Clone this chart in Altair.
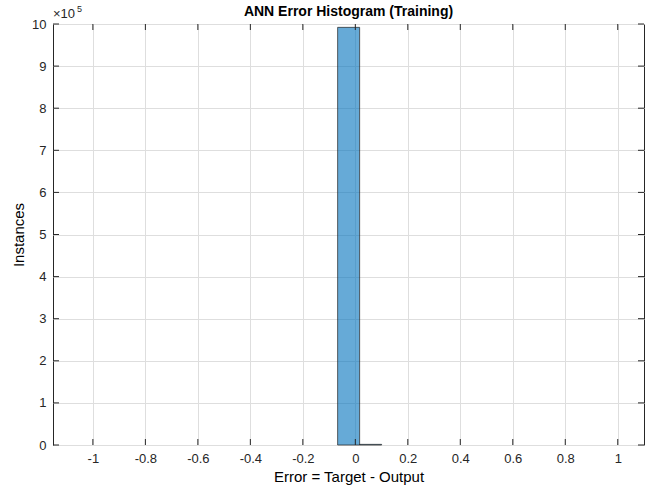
import altair as alt
import pandas as pd

# Histogram bins (error values) and counts
bin_starts = [-0.0674, 0.0164]
bin_ends = [0.0164, 0.1002]
counts = [992000, 1500]

x_ticks = [-1.0, -0.8, -0.6, -0.4, -0.2, 0.0, 0.2, 0.4, 0.6, 0.8, 1.0]
y_ticks = [0, 100000, 200000, 300000, 400000, 500000, 600000, 700000, 800000, 900000, 1000000]

W, H = 591, 421
FONT = "Liberation Sans"
AX = "#262626"

bars_df = pd.DataFrame({"x0": bin_starts, "x1": bin_ends, "n": counts})
xt_df = pd.DataFrame({"x0": x_ticks})
yt_df = pd.DataFrame({"n": y_ticks})

xs = alt.Scale(domain=[-1.152, 1.1], nice=False, zero=False)
ys = alt.Scale(domain=[0, 1000000], nice=False)

x_axis = alt.Axis(values=x_ticks, title="Error = Target - Output",
                  labelExpr="replace(format(datum.value, '.1~f'), '−', '-')",
                  grid=True)
y_axis = alt.Axis(values=y_ticks, title="Instances",
                  labelExpr="format(datum.value / 100000, 'd')",
                  grid=True)

bars = alt.Chart(bars_df).mark_rect(
    color="#0072BD", fillOpacity=0.6, stroke="#262626", strokeWidth=0.8, strokeOpacity=0.9
).encode(
    x=alt.X("x0:Q", scale=xs, axis=x_axis),
    x2="x1:Q",
    y=alt.Y("n:Q", scale=ys, axis=y_axis),
    y2=alt.datum(0),
)

tick_len = 6
xb = alt.Chart(xt_df).mark_rule(color=AX, strokeWidth=1).encode(
    x=alt.X("x0:Q", scale=xs, axis=x_axis), y=alt.value(H), y2=alt.value(H - tick_len))
xtp = alt.Chart(xt_df).mark_rule(color=AX, strokeWidth=1).encode(
    x=alt.X("x0:Q", scale=xs, axis=x_axis), y=alt.value(0), y2=alt.value(tick_len))
yl = alt.Chart(yt_df).mark_rule(color=AX, strokeWidth=1).encode(
    y=alt.Y("n:Q", scale=ys, axis=y_axis), x=alt.value(0), x2=alt.value(tick_len))
yr = alt.Chart(yt_df).mark_rule(color=AX, strokeWidth=1).encode(
    y=alt.Y("n:Q", scale=ys, axis=y_axis), x=alt.value(W), x2=alt.value(W - tick_len))

exp_a = alt.Chart(pd.DataFrame({"t": ["×10"]})).mark_text(
    align="left", baseline="alphabetic", font=FONT, fontSize=13, color=AX
).encode(text="t:N", x=alt.value(0), y=alt.value(-6))
exp_b = alt.Chart(pd.DataFrame({"t": ["5"]})).mark_text(
    align="left", baseline="alphabetic", font=FONT, fontSize=9, color=AX
).encode(text="t:N", x=alt.value(24), y=alt.value(-12))

title = alt.Chart(pd.DataFrame({"t": ["ANN Error Histogram (Training)"]})).mark_text(
    align="center", baseline="middle", font=FONT, fontSize=14, fontWeight="bold", color="#000000"
).encode(text="t:N", x=alt.value(W / 2), y=alt.value(-12))

chart = alt.layer(bars, xb, xtp, yl, yr, exp_a, exp_b, title).properties(
    width=W, height=H,
    autosize=alt.AutoSizeParams(type="none"),
    padding={"left": 53, "top": 24, "right": 10, "bottom": 42},
).configure_view(
    stroke=AX, strokeWidth=1
).configure_axis(
    domain=False, ticks=False, gridColor="#dedede", gridWidth=1,
    labelFont=FONT, labelFontSize=13, labelColor=AX, labelPadding=7,
    titleFont=FONT, titleFontSize=15, titleColor="#000000", titleFontWeight="normal",
).configure_axisX(
    titlePadding=4
).configure_axisY(
    titlePadding=5
)

chart.save("out.html", embed_options={"renderer": "svg", "actions": False})
